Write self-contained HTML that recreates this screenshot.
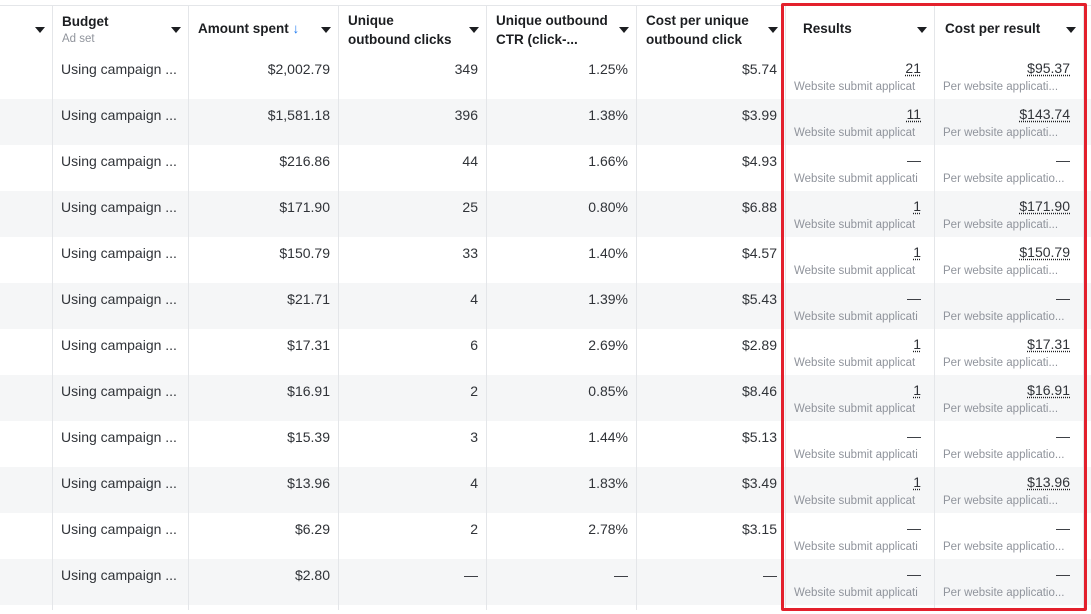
<!DOCTYPE html>
<html><head><meta charset="utf-8">
<style>
*{margin:0;padding:0;box-sizing:border-box}
body{width:1091px;height:614px;overflow:hidden;background:#fff;font-family:"Liberation Sans",sans-serif;color:#1c1e21;position:relative}
.c{position:absolute;white-space:nowrap;overflow:hidden}
.h{font-weight:bold;font-size:13.5px;line-height:19px;color:#1c1e21}
.t{font-size:14px;color:#303338;line-height:18px;padding-bottom:2px}
.s{font-size:11.5px;color:#90949c}
.v{position:absolute;top:5px;width:1px;background:#e4e6e9}
.row{position:absolute;left:0;width:1091px;height:46px}
.caret{position:absolute;width:0;height:0;border-left:5px solid transparent;border-right:5px solid transparent;border-top:6px solid #1c1e21}
.u{text-decoration:underline dotted #1c1e21;text-underline-offset:2px}
</style></head><body>
<div id="root"></div>
<script>
const budgets=["Using campaign ...","Using campaign ...","Using campaign ...","Using campaign ...","Using campaign ...","Using campaign ...","Using campaign ...","Using campaign ...","Using campaign ...","Using campaign ...","Using campaign ...","Using campaign ..."];
const spent=["$2,002.79","$1,581.18","$216.86","$171.90","$150.79","$21.71","$17.31","$16.91","$15.39","$13.96","$6.29","$2.80"];
const clicks=["349","396","44","25","33","4","6","2","3","4","2","—"];
const ctr=["1.25%","1.38%","1.66%","0.80%","1.40%","1.39%","2.69%","0.85%","1.44%","1.83%","2.78%","—"];
const cpc=["$5.74","$3.99","$4.93","$6.88","$4.57","$5.43","$2.89","$8.46","$5.13","$3.49","$3.15","—"];
const results=["21","11","—","1","1","—","1","1","—","1","—","—"];
const cpr=["$95.37","$143.74","—","$171.90","$150.79","—","$17.31","$16.91","—","$13.96","—","—"];
const cols=[0,52,188,338,486,636,785,934,1083];
const root=document.body;
function mk(cls,css,txt){const d=document.createElement('div');d.className=cls;d.style.cssText=css;if(txt!==undefined)d.innerHTML=txt;root.appendChild(d);return d;}
let e=mk('c','left:0;top:5px;width:1091px;height:1px;background:#e4e6e9');

e=mk('c','left:0;top:53px;width:1091px;height:1px;background:#e4e6e9');

for(let i=0;i<12;i++){
  const y=53+i*46;
  const r=mk('row','top:'+y+'px;background:'+(i%2?'#f5f6f7':'#fff'));
  
  
}
for(let k=1;k<cols.length;k++){
  const v=mk('v','left:'+cols[k]+'px;height:605px');
  
  
}
const heads=[
 [0,'',''],
 [1,'Budget','<span style="font-weight:normal;font-size:11.5px;color:#90949c">Ad set</span>'],
 [2,'Amount spent <span style="color:#1877f2;font-weight:normal">↓</span>',''],
 [3,'Unique','outbound clicks'],
 [4,'Unique outbound','CTR (click-...'],
 [5,'Cost per unique','outbound click'],
 [6,'Results',''],
 [7,'Cost per result','']
];
heads.forEach(h=>{
  const x=cols[h[0]];const w=cols[h[0]+1]-x;
  const pad=h[0]==6?18:(h[0]==7?11:10);
  const single=!h[2];
  const d=mk('c h','left:'+(x+pad)+'px;top:'+(single?19:11)+'px;width:'+(w-36)+'px',h[1]+(h[2]?'<br>'+h[2]:''));
  if(h[0]==1){d.style.lineHeight='16px';d.style.top='14px';}
  
  
  const c=mk('caret','left:'+(x+w-17)+'px;top:27px');
  
  
});
for(let i=0;i<12;i++){
  const y=53+i*46;
  let d=mk('c t','left:61px;top:'+(y+7)+'px',budgets[i]);
  
  const vals=[spent[i],clicks[i],ctr[i],cpc[i]];
  vals.forEach((v,k)=>{
    const right=1091-cols[k+3]+8;
    const c=mk('c t','right:'+right+'px;top:'+(y+7)+'px',v);
    
  });
  const rv=results[i]=='—'?'—':'<span class="u">'+results[i]+'</span>';
  d=mk('c t','right:'+(1091-934+13)+'px;top:'+(y+6)+'px',rv);
  
  d=mk('c s','left:794px;top:'+(y+28)+'px;width:130px',results[i]=='—'?'Website submit applicati':'Website submit applicat');
  
  const cv=cpr[i]=='—'?'—':'<span class="u">'+cpr[i]+'</span>';
  d=mk('c t','right:'+(1091-1083+13)+'px;top:'+(y+6)+'px',cv);
  
  d=mk('c s','left:943px;top:'+(y+28)+'px',cpr[i]=='—'?'Per website applicatio...':'Per website applicati...');
  
}
e=mk('c','left:781px;top:3px;width:306px;height:608px;border:3px solid #e3202c;border-radius:2px;overflow:visible');

</script>
</body></html>
